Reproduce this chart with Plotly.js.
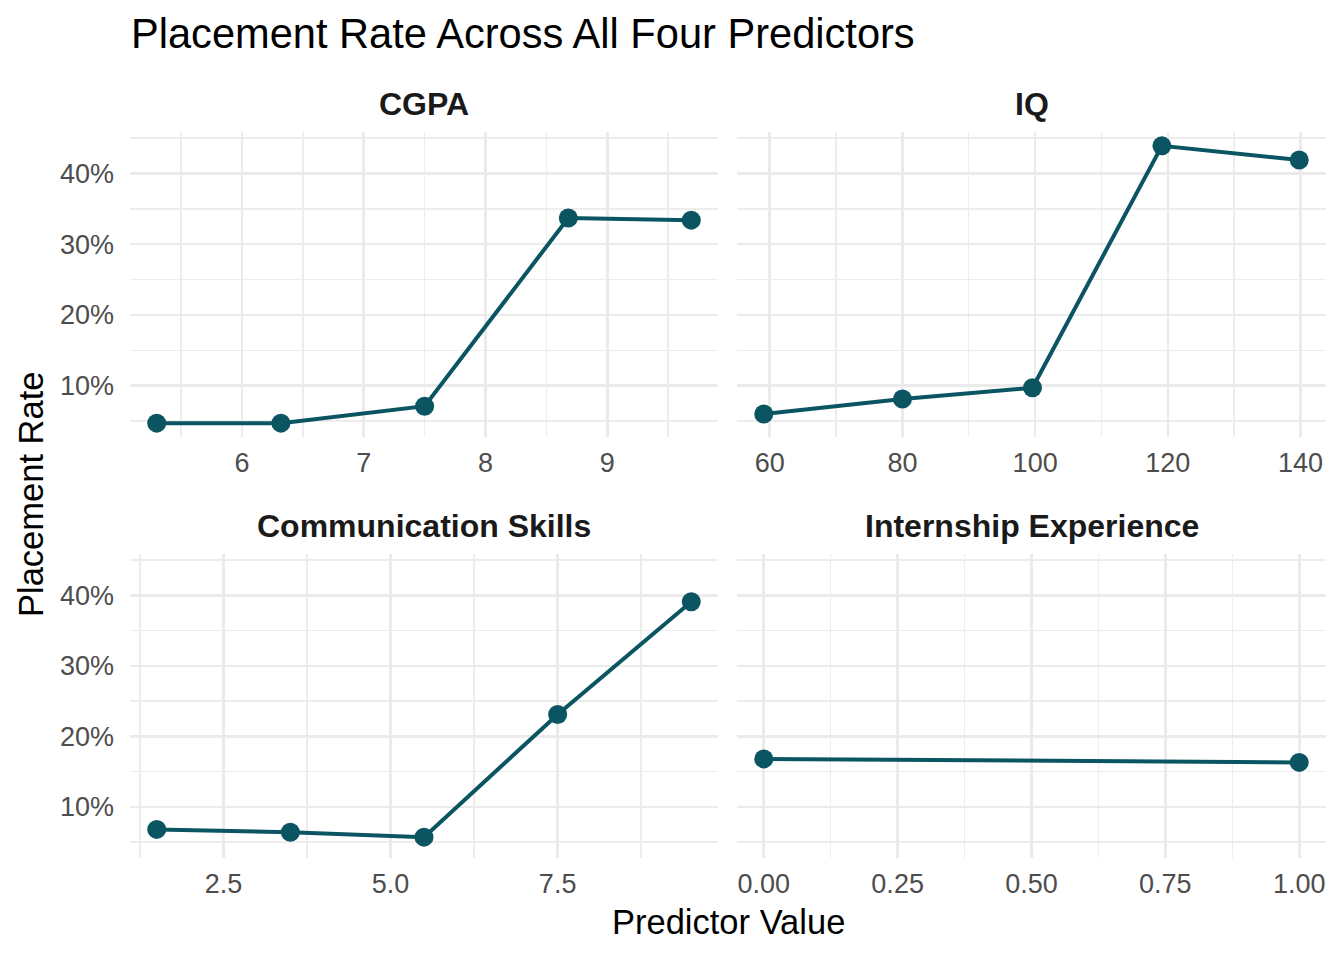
<!DOCTYPE html>
<html>
<head>
<meta charset="utf-8">
<script src="https://cdn.plot.ly/plotly-3.0.1.min.js"></script>
<style>
  html, body { margin: 0; padding: 0; background: #fff; }
  #chart { width: 1344px; height: 960px; }
</style>
</head>
<body>
<div id="chart"></div>
<script>
// placement rate by binned predictor value
const panels = ['CGPA', 'IQ', 'Communication Skills', 'Internship Experience'];
const cgpaX = [5.30, 6.32, 7.50, 8.68, 9.69];
const cgpaY = [0.047, 0.047, 0.071, 0.337, 0.334];
const iqX = [59.1, 80.0, 99.6, 119.1, 139.8];
const iqY = [0.060, 0.081, 0.097, 0.439, 0.419];
const commX = [1.5, 3.5, 5.5, 7.5, 9.5];
const commY = [0.068, 0.064, 0.057, 0.231, 0.391];
const internX = [0, 1];
const internY = [0.168, 0.163];

const COL = '#0b5563';
const FONT = 'Liberation Sans, Arial, Helvetica, sans-serif';
const W = 1344, H = 960;

// ggplot style 5% expansion
const expand = (v) => {
  const lo = Math.min(...v), hi = Math.max(...v), d = (hi - lo) * 0.05;
  return [lo - d, hi + d];
};
const yRange = expand([...cgpaY, ...iqY, ...commY, ...internY]);

const px = (a, b) => [a / W, b / W];
const py = (top, bot) => [1 - bot / H, 1 - top / H];

const series = [[cgpaX, cgpaY], [iqX, iqY], [commX, commY], [internX, internY]];
const traces = series.map(([x, y], i) => ({
  x, y,
  xaxis: 'x' + (i ? i + 1 : ''),
  yaxis: 'y' + (i ? i + 1 : ''),
  mode: 'lines+markers',
  line: { color: COL, width: 4 },
  marker: { color: COL, size: 19 },
  hoverinfo: 'skip',
}));

const grid = { showgrid: true, gridcolor: '#ebebeb', gridwidth: 2.6, zeroline: false, showline: false, ticks: '' };
const tickFont = { family: FONT, size: 27, color: '#4d4d4d' };

function xAx(dom, anchor, vals, dtick, minor, fmt) {
  return {
    ...grid, domain: dom, anchor, range: expand(vals),
    tick0: 0, dtick, tickformat: fmt,
    minor: { dtick: minor, tick0: 0, showgrid: true, gridcolor: '#ededed', gridwidth: 1.4 },
    tickfont: tickFont, ticklabelstandoff: 7,
  };
}
function yAx(dom, anchor, labels) {
  return {
    ...grid, domain: dom, anchor, range: yRange,
    tick0: 0, dtick: 0.1, tickformat: '.0%',
    minor: { dtick: 0.05, tick0: 0, showgrid: true, gridcolor: '#ededed', gridwidth: 1.4 },
    showticklabels: labels, tickfont: tickFont, ticklabelstandoff: 15,
  };
}

const colL = px(130, 718), colR = px(737, 1326);
const rowT = py(132, 437), rowB = py(554, 858);

const strip = (text, dom, y) => ({
  text: '<b>' + text + '</b>', xref: 'paper', yref: 'paper',
  x: (dom[0] + dom[1]) / 2, y, xanchor: 'center', yanchor: 'middle',
  showarrow: false, font: { family: FONT, size: 32, color: '#1a1a1a' },
});

const layout = {
  width: W, height: H,
  margin: { l: 0, r: 0, t: 0, b: 0 },
  paper_bgcolor: '#fff', plot_bgcolor: '#fff',
  showlegend: false,
  font: { family: FONT },
  title: {
    text: 'Placement Rate Across All Four Predictors',
    x: 131 / W, xanchor: 'left', xref: 'paper',
    y: 1 - 33 / H, yanchor: 'middle', yref: 'container',
    font: { family: FONT, size: 41.6, color: '#000' },
  },
  xaxis: xAx(colL, 'y', cgpaX, 1, 0.5),
  yaxis: yAx(rowT, 'x', true),
  xaxis2: xAx(colR, 'y2', iqX, 20, 10),
  yaxis2: yAx(rowT, 'x2', false),
  xaxis3: xAx(colL, 'y3', commX, 2.5, 1.25, '.1f'),
  yaxis3: yAx(rowB, 'x3', true),
  xaxis4: xAx(colR, 'y4', internX, 0.25, 0.125, '.2f'),
  yaxis4: yAx(rowB, 'x4', false),
  annotations: [
    strip(panels[0], colL, 1 - 104 / H),
    strip(panels[1], colR, 1 - 104 / H),
    strip(panels[2], colL, 1 - 526 / H),
    strip(panels[3], colR, 1 - 526 / H),
    { text: 'Predictor Value', xref: 'paper', yref: 'paper', x: 728 / W, y: 1 - 922 / H,
      xanchor: 'center', yanchor: 'middle', showarrow: false,
      font: { family: FONT, size: 34.5, color: '#000' } },
    { text: 'Placement Rate', xref: 'paper', yref: 'paper', x: 31 / W, y: 1 - 495 / H,
      xanchor: 'center', yanchor: 'middle', textangle: -90, showarrow: false,
      font: { family: FONT, size: 34.5, color: '#000' } },
  ],
};

Plotly.newPlot('chart', traces, layout, { staticPlot: true, displayModeBar: false });
</script>
</body>
</html>
